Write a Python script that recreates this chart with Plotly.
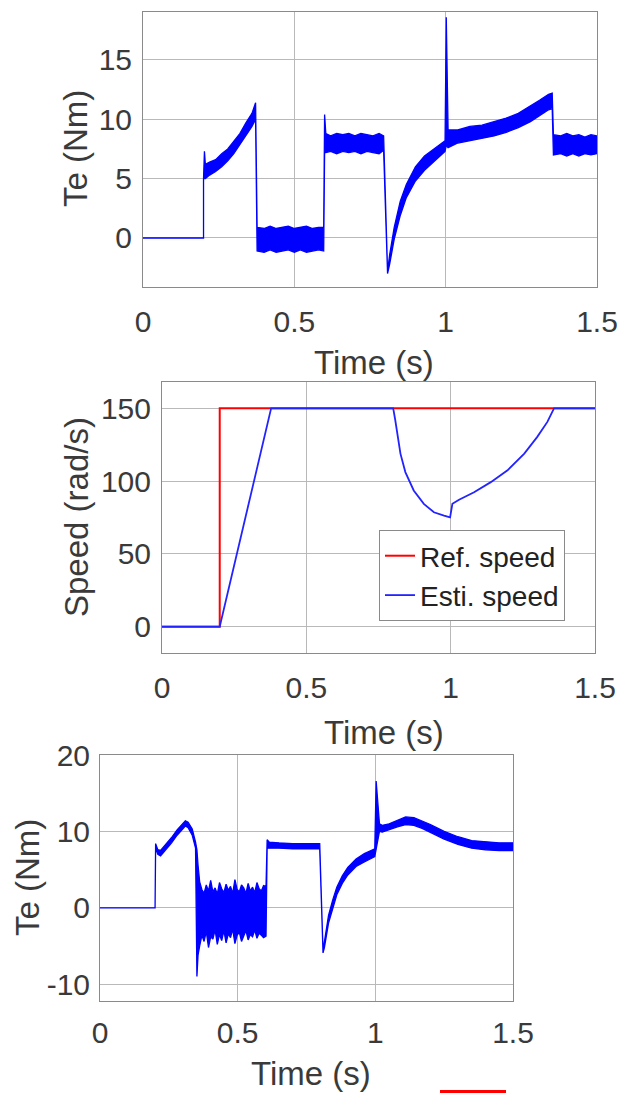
import plotly.graph_objects as go

W, H = 627, 1093

# ---------------- Data ----------------
# Panel 1: Te (Nm) ripple band, upper / lower envelope vs time (s)
te1_t = [0, 0.2, 0.2, 0.203, 0.206, 0.22, 0.24, 0.26, 0.28, 0.30, 0.32, 0.34, 0.36, 0.372,
         0.377, 0.40, 0.42, 0.44, 0.46, 0.48, 0.50, 0.52, 0.54, 0.56, 0.58, 0.597,
         0.600, 0.604, 0.62, 0.64, 0.66, 0.68, 0.70, 0.72, 0.74, 0.76, 0.78, 0.795,
         0.808, 0.815, 0.83, 0.85, 0.87, 0.90, 0.93, 0.96, 0.998,
         1.002, 1.008, 1.04, 1.08, 1.12, 1.16, 1.20, 1.24, 1.28, 1.31, 1.34, 1.352,
         1.356, 1.38, 1.40, 1.42, 1.44, 1.46, 1.48, 1.5]
te1_hi = [0, 0, 5.0, 7.3, 6.2, 6.4, 6.6, 7.1, 7.5, 8.2, 8.8, 9.7, 10.5, 11.4,
          0.9, 0.8, 1.0, 0.8, 0.9, 1.0, 0.8, 0.9, 1.0, 0.8, 0.9, 0.9,
          10.4, 8.8, 8.6, 8.8, 8.7, 8.8, 8.6, 8.8, 8.7, 8.6, 8.8, 8.6,
          -2.8, -1.4, 0.9, 3.1, 4.5, 6.0, 6.9, 7.5, 8.2,
          18.6, 9.1, 9.1, 9.4, 9.5, 9.8, 10.1, 10.5, 11.1, 11.6, 12.1, 12.2,
          8.7, 8.6, 8.8, 8.6, 8.7, 8.5, 8.7, 8.6]
te1_lo = [0, 0, 5.0, 5.0, 5.0, 5.3, 5.6, 6.0, 6.5, 7.1, 7.8, 8.6, 9.4, 10.0,
          -1.1, -1.2, -1.0, -1.2, -1.1, -1.0, -1.2, -1.0, -1.2, -1.1, -1.0, -1.1,
          7.2, 7.2, 7.3, 7.1, 7.3, 7.2, 7.3, 7.1, 7.3, 7.2, 7.1, 7.4,
          -3.0, -2.2, -0.1, 1.9, 3.4, 4.8, 5.7, 6.4, 7.3,
          7.8, 7.6, 8.0, 8.2, 8.4, 8.6, 8.9, 9.3, 9.8, 10.3, 10.8, 10.9,
          7.0, 7.1, 6.9, 7.1, 6.9, 7.1, 7.0, 7.1]

# Panel 2: speed (rad/s)
ref_t = [0, 0.2, 0.2, 1.5]
ref_w = [0, 0, 150, 150]
est_t = [0, 0.2, 0.378, 0.801, 0.808, 0.815, 0.826, 0.843, 0.872, 0.907, 0.942,
         0.977, 0.998, 1.006, 1.029, 1.081, 1.139, 1.197, 1.255, 1.30, 1.335,
         1.358, 1.5]
est_w = [0, 0, 150, 150, 142, 132.7, 118.9, 106.2, 93.6, 84.4, 78.6,
         76.3, 75.1, 84.4, 87.2, 92.4, 99.3, 107.4, 118.9, 130.4, 140.7,
         150, 150]

# Panel 3: Te (Nm) ripple band, upper / lower envelope vs time (s)
te3_t = [0, 0.2, 0.202, 0.21, 0.22, 0.24, 0.26, 0.28, 0.30, 0.31, 0.32, 0.335, 0.347,
         0.352, 0.356, 0.362, 0.37, 0.378, 0.386, 0.394, 0.402, 0.41, 0.418, 0.426,
         0.434, 0.442, 0.45, 0.458, 0.466, 0.474, 0.482, 0.49, 0.498, 0.506, 0.514,
         0.522, 0.53, 0.538, 0.546, 0.554, 0.562, 0.57, 0.578, 0.586, 0.594, 0.603,
         0.607, 0.615, 0.65, 0.70, 0.75, 0.798,
         0.81, 0.815, 0.83, 0.845, 0.86, 0.88, 0.90, 0.93, 0.96, 0.998,
         1.003, 1.015, 1.025, 1.05, 1.08, 1.11, 1.14, 1.17, 1.20, 1.25, 1.30, 1.35,
         1.40, 1.45, 1.50]
te3_hi = [0, 0, 8.4, 7.6, 7.5, 8.3, 9.2, 10.2, 11.0, 11.4, 11.2, 10.3, 8.6,
          7.6, 5.6, 3.4, 2.4, 1.9, 3.0, 2.2, 3.6, 2.1, 2.6, 1.8, 3.3,
          2.5, 2.0, 3.1, 2.3, 2.8, 1.9, 3.7, 2.4, 2.1, 3.0, 2.6,
          1.9, 3.2, 2.2, 2.7, 2.0, 3.3, 2.5, 2.2, 2.9, 2.8,
          8.9, 8.6, 8.5, 8.4, 8.4, 8.4,
          -5.6, -4.3, -1.0, 1.0, 2.7, 4.2, 5.3, 6.4, 7.1, 7.7,
          16.6, 11.0, 10.8, 11.0, 11.5, 11.9, 11.8, 11.4, 10.9, 10.0, 9.3, 8.8,
          8.6, 8.5, 8.5]
te3_lo = [0, 0, 7.9, 7.0, 6.8, 7.6, 8.5, 9.5, 10.3, 10.7, 10.5, 9.5, 7.8,
          -9.0, -6.2, -5.0, -3.6, -4.4, -3.1, -5.2, -3.8, -4.1, -2.9, -4.8, -3.5,
          -4.3, -3.0, -4.6, -3.4, -3.9, -2.8, -4.7, -3.6, -3.2, -4.4, -3.7,
          -3.0, -4.2, -3.5, -3.8, -2.9, -4.0, -3.3, -3.6, -3.9, -3.7,
          7.8, 7.8, 7.8, 7.7, 7.7, 7.7,
          -5.9, -5.2, -2.0, 0.0, 1.7, 3.2, 4.3, 5.4, 6.0, 6.7,
          7.4, 10.0, 9.9, 10.2, 10.6, 10.9, 10.8, 10.4, 9.9, 9.0, 8.3, 7.8,
          7.6, 7.5, 7.5]

x_ticks = [0, 0.5, 1, 1.5]
x_tick_text = ["0", "0.5", "1", "1.5"]
y1_ticks = [0, 5, 10, 15]
y2_ticks = [0, 50, 100, 150]
y3_ticks = [-10, 0, 10, 20]
y3_tick_text = ["-10", "0", "10", "20"]

# ---------------- Styling helpers ----------------
FONT = "Liberation Sans, Arial, Helvetica, sans-serif"
TXT = "#3a3a3a"
GRID = "#b9b9b9"
FRAME = "#8a8a8a"
BLUE = "#0000ff"
RED = "#ff0000"
TICK = 30
TITLE = 33


def px_x(p):
    return p / W


def px_y(p):
    return 1 - p / H


def band(t, hi, lo, xa, ya):
    return go.Scatter(
        x=list(t) + list(t)[::-1],
        y=list(hi) + list(lo)[::-1],
        mode="lines", fill="toself", fillcolor=BLUE,
        line=dict(color=BLUE, width=1.3),
        xaxis=xa, yaxis=ya, showlegend=False, hoverinfo="skip",
    )


fig = go.Figure()
fig.add_trace(band(te1_t, te1_hi, te1_lo, "x", "y"))
fig.add_trace(go.Scatter(x=ref_t, y=ref_w, mode="lines", name="Ref. speed",
                         line=dict(color=RED, width=2), xaxis="x2", yaxis="y2"))
fig.add_trace(go.Scatter(x=est_t, y=est_w, mode="lines", name="Esti. speed",
                         line=dict(color="#2323ff", width=1.8),
                         xaxis="x2", yaxis="y2"))
fig.add_trace(band(te3_t, te3_hi, te3_lo, "x3", "y3"))


def xaxis(dom, anchor, tl):
    return dict(domain=dom, anchor=anchor, range=[0, 1.5], tickvals=x_ticks,
                ticktext=x_tick_text, showgrid=True, gridcolor=GRID, gridwidth=1,
                zeroline=False, showline=True, mirror=True, linecolor=FRAME,
                linewidth=1, ticks="outside", ticklen=tl, automargin=False,
                tickcolor="rgba(0,0,0,0)",
                tickfont=dict(family=FONT, size=TICK, color=TXT))


def yaxis(dom, anchor, rng, tv, tt, tl):
    return dict(domain=dom, anchor=anchor, range=rng, tickvals=tv,
                ticktext=tt,
                showgrid=True, gridcolor=GRID, gridwidth=1, zeroline=False,
                showline=True, mirror=True, linecolor=FRAME, linewidth=1,
                ticks="outside", ticklen=tl, tickcolor="rgba(0,0,0,0)",
                automargin=False,
                tickfont=dict(family=FONT, size=TICK, color=TXT))


p1 = dict(x=[143, 597], y=[12, 287])
p2 = dict(x=[162, 595], y=[382, 653])
p3 = dict(x=[100, 513], y=[755, 1001])

fig.update_layout(
    width=W, height=H, autosize=False,
    margin=dict(l=0, r=0, t=0, b=0, pad=0),
    paper_bgcolor="white", plot_bgcolor="white",
    xaxis=xaxis([px_x(p1["x"][0]), px_x(p1["x"][1])], "y", 8),
    yaxis=yaxis([px_y(p1["y"][1]), px_y(p1["y"][0])], "x", [-4.13, 19.04],
                y1_ticks, [str(v) for v in y1_ticks], 4),
    xaxis2=xaxis([px_x(p2["x"][0]), px_x(p2["x"][1])], "y2", 8),
    yaxis2=yaxis([px_y(p2["y"][1]), px_y(p2["y"][0])], "x2", [-18.1, 168.1],
                 y2_ticks, [str(v) for v in y2_ticks], 4),
    xaxis3=xaxis([px_x(p3["x"][0]), px_x(p3["x"][1])], "y3", 5),
    yaxis3=yaxis([px_y(p3["y"][1]), px_y(p3["y"][0])], "x3", [-12.2, 20],
                 y3_ticks, y3_tick_text, 3),
    legend=dict(x=px_x(379), y=px_y(530), xanchor="left", yanchor="top",
                bgcolor="white", bordercolor=FRAME, borderwidth=1,
                font=dict(family=FONT, size=28, color="#222222"),
                tracegroupgap=0),
)

ann = []


def title(text, x, y, angle=0, size=TITLE):
    ann.append(dict(text=text, x=px_x(x), y=px_y(y), xref="paper", yref="paper",
                    showarrow=False, xanchor="center", yanchor="middle",
                    textangle=angle, font=dict(family=FONT, size=size, color=TXT)))


title("Te (Nm)", 76, 149, -90)
title("Time (s)", 374, 362)
title("Speed (rad/s)", 76, 517, -90)
title("Time (s)", 384, 732)
title("Te (Nm)", 27, 878, -90)
title("Time (s)", 311, 1073)
fig.update_layout(annotations=ann)

# red mark at the very bottom edge of the picture
fig.add_shape(type="line", xref="paper", yref="paper",
              x0=px_x(440), x1=px_x(506), y0=px_y(1091.5), y1=px_y(1091.5),
              line=dict(color=RED, width=3))

fig.write_html("out.html", config={"displayModeBar": False},
               post_script="document.body.style.margin='0px';"
                           "document.body.style.overflow='hidden';")
